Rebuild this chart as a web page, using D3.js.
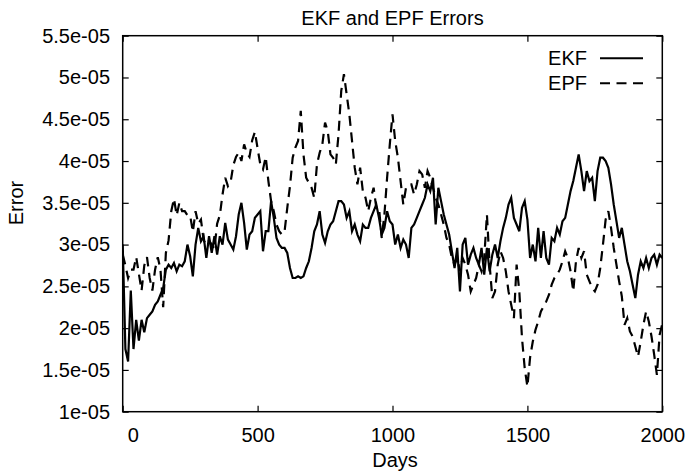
<!DOCTYPE html>
<html>
<head>
<meta charset="utf-8">
<script src="https://cdn.jsdelivr.net/npm/d3@7"></script>
<style>
  body { margin: 0; background: #fff; }
  text { font-family: "Liberation Sans", Arial, Helvetica, sans-serif; fill: #000; }
</style>
</head>
<body>
<div id="chart"></div>
<script>
// sampling of the x axis: one reading every 10 days
const days = d3.range(0, 2001, 10);

// values in units of 1e-05
const ekf = [
  3.0, 1.75, 1.6, 2.45, 1.75, 2.1, 1.85, 2.1, 1.95, 2.12,
  2.16, 2.2, 2.28, 2.32, 2.4, 2.48, 2.7, 2.76, 2.72, 2.78,
  2.68, 2.76, 2.74, 2.8, 3.0, 2.86, 2.62, 3.0, 3.2, 3.04,
  3.1, 2.84, 3.1, 2.9, 3.1, 2.88, 3.1, 3.0, 3.26, 3.06,
  3.0, 2.94, 3.1, 3.36, 3.5, 3.26, 2.94, 3.12, 3.16, 3.32,
  3.36, 3.4, 2.92, 3.16, 3.16, 3.52, 3.32, 3.08, 3.0, 2.96,
  2.96, 2.9, 2.72, 2.6, 2.6, 2.62, 2.6, 2.62, 2.72, 2.8,
  2.96, 3.16, 3.24, 3.4, 3.12, 3.02, 3.16, 3.24, 3.28, 3.4,
  3.52, 3.52, 3.48, 3.32, 3.4, 3.16, 3.24, 3.12, 3.04, 3.24,
  3.2, 3.2, 3.32, 3.4, 3.48, 3.32, 3.12, 3.2, 3.4, 3.28,
  3.24, 3.0, 3.12, 2.96, 3.06, 3.0, 2.84, 3.2, 3.24, 3.32,
  3.4, 3.48, 3.56, 3.72, 3.64, 3.8, 3.24, 3.68, 3.52, 3.36,
  3.24, 3.12, 2.92, 2.72, 2.96, 2.44, 3.0, 3.08, 2.76, 2.88,
  2.96, 2.84, 2.76, 2.96, 2.64, 2.96, 2.68, 2.88, 3.0, 2.84,
  3.04, 3.2, 3.32, 3.48, 3.56, 3.32, 3.24, 3.16, 3.44, 3.52,
  3.3, 2.84, 3.0, 2.8, 3.2, 2.84, 3.16, 2.84, 2.76, 3.08,
  3.04, 3.2, 3.12, 3.28, 3.32, 3.48, 3.64, 3.76, 3.92, 4.08,
  3.88, 3.64, 3.88, 3.76, 3.8, 3.52, 3.88, 4.04, 4.04, 4.0,
  3.92, 3.72, 3.48, 3.28, 3.08, 3.2, 3.0, 2.8, 2.68, 2.52,
  2.36, 2.64, 2.8, 2.72, 2.84, 2.72, 2.84, 2.88, 2.76, 2.88,
  2.84
];
const epf = [
  2.88, 2.75, 2.6, 2.7, 2.7, 2.85, 2.65, 2.45, 2.75, 2.85,
  2.6, 2.45, 2.7, 2.85, 2.7, 2.25, 2.9, 3.05, 3.4, 3.55,
  3.35, 3.5, 3.4, 3.4, 3.35, 3.35, 3.15, 3.4, 3.25, 3.3,
  3.05, 3.0, 3.05, 3.0, 2.95, 3.25, 3.35, 3.6, 3.8, 3.7,
  3.75, 3.95, 4.05, 4.1, 4.0, 4.2, 4.1, 4.05, 4.25, 4.35,
  4.15, 3.96, 3.9, 4.05, 3.76, 3.52, 3.4, 3.24, 3.16, 3.12,
  3.16, 3.44, 3.7, 4.04, 4.16, 4.24, 4.6, 4.08, 3.8, 3.74,
  3.68, 3.56, 3.96, 4.1, 4.2, 4.46, 4.36, 4.08, 4.04, 3.96,
  4.32, 4.84, 5.04, 4.8, 4.56, 4.24, 3.92, 3.72, 3.92, 3.64,
  3.56, 3.4, 3.56, 3.68, 3.44, 3.44, 3.08, 3.36, 3.8, 4.2,
  4.56, 4.24, 4.04, 3.76, 3.48, 3.68, 3.72, 3.72, 3.6, 3.72,
  3.88, 3.84, 3.68, 3.88, 3.8, 3.68, 3.56, 3.48, 3.36, 3.24,
  3.08, 3.0, 2.84, 2.76, 2.84, 2.68, 2.84, 2.76, 2.64, 2.44,
  2.52, 2.6, 2.76, 2.68, 2.84, 3.36, 2.76, 2.36, 2.44, 2.76,
  2.92, 2.84, 2.68, 2.44, 2.28, 2.12, 2.76, 2.44, 1.88, 1.52,
  1.3, 1.65, 1.84, 1.98, 2.08, 2.2, 2.26, 2.32, 2.4, 2.52,
  2.6, 2.64, 2.7, 2.8, 2.92, 2.84, 2.68, 2.44, 2.8, 2.96,
  2.84, 2.92, 2.64, 2.56, 2.48, 2.44, 2.52, 2.72, 3.0, 3.3,
  3.4, 3.2, 2.96, 2.76, 2.56, 2.38, 2.04, 2.12, 1.96, 1.9,
  1.78, 1.66, 1.84, 2.04, 2.2, 2.08, 1.9, 1.68, 1.44, 1.92,
  2.05
];

const seriesNames = ['EKF', 'EPF'];
const xTicks = [0, 500, 1000, 1500, 2000];
const yTicks = [1, 1.5, 2, 2.5, 3, 3.5, 4, 4.5, 5, 5.5];

// ***** layout *****
const width = 685;
const height = 476;
const paddingLeft = 122.7;
const paddingRight = 22.7;
const paddingTop = 35.7;
const paddingBottom = 64.3;
const innerW = width - paddingLeft - paddingRight;
const innerH = height - paddingTop - paddingBottom;
const fontSize = 20;

const xScale = d3.scaleLinear().domain([0, 2000]).range([0, innerW]);
const yScale = d3.scaleLinear().domain([1, 5.5]).range([innerH, 0]);

const svg = d3.select('#chart').append('svg')
  .attr('width', width)
  .attr('height', height);

svg.append('defs').append('clipPath')
  .attr('id', 'plot-clip')
  .append('rect')
  .attr('width', innerW)
  .attr('height', innerH);

const g = svg.append('g')
  .attr('transform', `translate(${paddingLeft},${paddingTop})`);

// axes, ticks point inward (gnuplot style) and are mirrored
const tickLen = 6;
const xAxis = d3.axisBottom(xScale).tickValues(xTicks)
  .tickSizeInner(-tickLen).tickSizeOuter(0).tickPadding(16)
  .tickFormat(d3.format('d'));
const yAxis = d3.axisLeft(yScale).tickValues(yTicks)
  .tickSizeInner(-tickLen).tickSizeOuter(0).tickPadding(12.7)
  .tickFormat((d) => `${d}e-05`);
const xAxisTop = d3.axisTop(xScale).tickValues(xTicks)
  .tickSizeInner(-tickLen).tickSizeOuter(0).tickFormat('');
const yAxisRight = d3.axisRight(yScale).tickValues(yTicks)
  .tickSizeInner(-tickLen).tickSizeOuter(0).tickFormat('');

const gx = g.append('g').attr('transform', `translate(0,${innerH})`).call(xAxis);
g.append('g').call(yAxis);
g.append('g').call(xAxisTop);
g.append('g').attr('transform', `translate(${innerW},0)`).call(yAxisRight);

g.selectAll('.domain').remove();
g.selectAll('.tick line').attr('stroke', '#000').attr('stroke-width', 1.2);
g.selectAll('.tick text')
  .attr('font-size', fontSize)
  .attr('font-family', '"Liberation Sans", Arial, sans-serif')
  .attr('fill', '#000');
// the "0" label sits a bit to the right of the left edge in the original
gx.selectAll('.tick text').filter((d) => d === 0).attr('dx', 10);

// series lines
const linePath = d3.line()
  .x((d) => xScale(d.day))
  .y((d) => yScale(d.value));

const ekfData = days.map((day, i) => ({ day, value: ekf[i] }));
const epfData = days.map((day, i) => ({ day, value: epf[i] }));

const lines = g.append('g').attr('clip-path', 'url(#plot-clip)');
lines.append('path')
  .attr('d', linePath(epfData))
  .attr('fill', 'none')
  .attr('stroke', '#000')
  .attr('stroke-width', 2.2)
  .attr('stroke-dasharray', '10,6.5');
lines.append('path')
  .attr('d', linePath(ekfData))
  .attr('fill', 'none')
  .attr('stroke', '#000')
  .attr('stroke-width', 2.2)
  .attr('stroke-linejoin', 'miter');

// frame
g.append('rect')
  .attr('width', innerW)
  .attr('height', innerH)
  .attr('fill', 'none')
  .attr('stroke', '#000')
  .attr('stroke-width', 1.5);

// title and axis labels
svg.append('text')
  .attr('x', paddingLeft + innerW / 2)
  .attr('y', 25)
  .attr('text-anchor', 'middle')
  .attr('font-size', fontSize)
  .text('EKF and EPF Errors');

svg.append('text')
  .attr('x', 395)
  .attr('y', 467)
  .attr('text-anchor', 'middle')
  .attr('font-size', fontSize)
  .text('Days');

svg.append('text')
  .attr('transform', 'translate(23,203) rotate(-90)')
  .attr('text-anchor', 'middle')
  .attr('font-size', fontSize)
  .text('Error');

// legend
const legend = svg.append('g');
seriesNames.forEach((name, i) => {
  const ly = 58.3 + i * 25;
  legend.append('text')
    .attr('x', 587)
    .attr('y', ly + 7)
    .attr('text-anchor', 'end')
    .attr('font-size', fontSize)
    .text(name);
  legend.append('line')
    .attr('x1', 600)
    .attr('x2', 643)
    .attr('y1', ly)
    .attr('y2', ly)
    .attr('stroke', '#000')
    .attr('stroke-width', 2)
    .attr('stroke-dasharray', i === 1 ? '10,6.5' : null);
});
</script>
</body>
</html>
